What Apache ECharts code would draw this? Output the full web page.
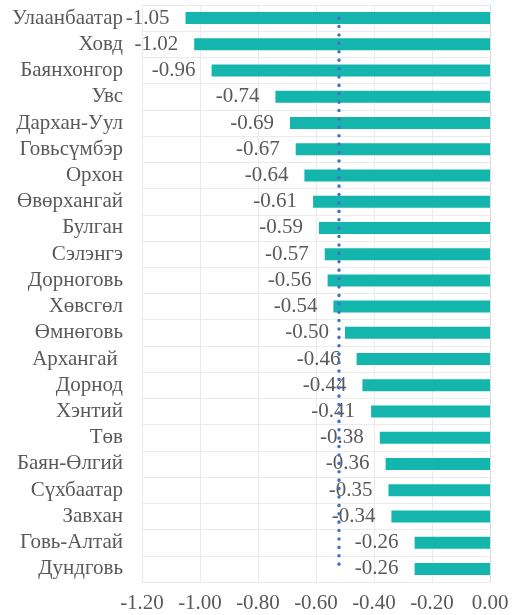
<!DOCTYPE html>
<html>
<head>
<meta charset="utf-8">
<script src="https://cdn.jsdelivr.net/npm/echarts@6/dist/echarts.min.js"></script>
<style>
    html, body { margin: 0; padding: 0; background: #fff; }
    #chart { width: 512px; height: 615px; }
</style>
</head>
<body>
<div id="chart"></div>
<script>
    // аймгууд, дээрээс доош
    const regions = ['Улаанбаатар', 'Ховд', 'Баянхонгор', 'Увс', 'Дархан-Уул', 'Говьсүмбэр', 'Орхон',
        'Өвөрхангай', 'Булган', 'Сэлэнгэ', 'Дорноговь', 'Хөвсгөл', 'Өмнөговь', 'Архангай ', 'Дорнод',
        'Хэнтий', 'Төв', 'Баян-Өлгий', 'Сүхбаатар', 'Завхан', 'Говь-Алтай', 'Дундговь'];
    const values = [-1.05, -1.02, -0.96, -0.74, -0.69, -0.67, -0.64, -0.61, -0.59, -0.57, -0.56,
        -0.54, -0.50, -0.46, -0.44, -0.41, -0.38, -0.36, -0.35, -0.34, -0.26, -0.26];
    const average = -0.52;   // тасархай шугам

    const font = '"Liberation Serif", "Times New Roman", serif';
    const textColor = '#595959';

    let option = {
        animation: false,
        grid: {
            left: 142,
            right: 22,
            top: 5,
            bottom: 33
        },
        xAxis: {
            type: 'value',
            min: -1.2,
            max: 0,
            interval: 0.2,
            axisLine: { show: false },
            axisTick: { show: false },
            axisLabel: {
                margin: 11,
                color: textColor,
                fontFamily: font,
                fontSize: 21,
                formatter: v => v.toFixed(2)
            },
            splitLine: {
                lineStyle: {
                    color: ['#ebebeb', '#ebebeb', '#ebebeb', '#ebebeb', '#ebebeb', '#ebebeb', '#d9d9d9']
                }
            }
        },
        yAxis: {
            type: 'category',
            inverse: true,
            data: regions,
            axisLine: { show: false },
            axisTick: { show: false },
            axisLabel: {
                interval: 0,
                margin: 19,
                color: textColor,
                fontFamily: font,
                fontSize: 21
            },
            splitLine: {
                show: true,
                interval: 0,
                lineStyle: { color: '#ebebeb' }
            }
        },
        series: [{
            type: 'bar',
            data: values,
            barWidth: 12,
            itemStyle: { color: '#13b5ad' },
            label: {
                show: true,
                position: 'left',
                distance: 16,
                color: textColor,
                fontFamily: font,
                fontSize: 21,
                formatter: p => p.value.toFixed(2)
            },
            markLine: {
                silent: true,
                symbol: 'none',
                label: { show: false },
                lineStyle: {
                    color: '#4472c4',
                    type: [0.1, 8.3],
                    width: 3.5,
                    cap: 'round'
                },
                data: [[
                    { coord: [average, regions[0]] },
                    { coord: [average, regions[regions.length - 1]] }
                ]]
            }
        }]
    };

    let myChart = echarts.init(document.getElementById('chart'));
    myChart.setOption(option);
</script>
</body>
</html>
